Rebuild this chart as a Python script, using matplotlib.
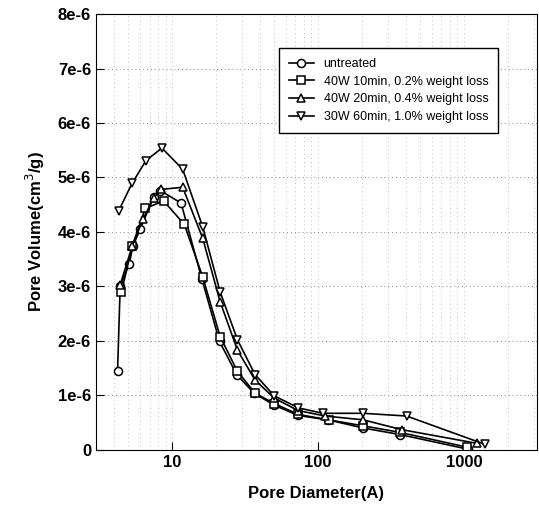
import numpy as np
import matplotlib.pyplot as plt
from matplotlib.ticker import FixedLocator, NullFormatter

plt.rcParams['font.family'] = ['Liberation Sans', 'DejaVu Sans']

# untreated
d_un = [4.22, 4.40, 5.07, 5.38, 6.03, 7.45, 8.28, 11.5, 16.0, 21.1, 27.7, 36.4, 50, 73, 117, 204, 365, 1070]
v_un = [1.45, 3.01, 3.41, 3.74, 4.05, 4.64, 4.76, 4.53, 3.13, 1.99, 1.38, 1.04, 0.82, 0.63, 0.55, 0.40, 0.28, 0.01]

# 40W 10min, 0.2%
d_10 = [4.48, 5.32, 6.54, 8.72, 12.1, 16.2, 21.3, 28.0, 37.0, 50, 73, 118, 204, 365, 1043]
v_10 = [2.89, 3.74, 4.43, 4.57, 4.14, 3.17, 2.08, 1.44, 1.04, 0.85, 0.65, 0.55, 0.44, 0.32, 0.05]

# 40W 20min, 0.4%
d_20 = [4.40, 5.32, 6.30, 7.45, 8.41, 11.8, 16.2, 21.3, 28.0, 37.0, 50, 73, 112, 204, 374, 1220]
v_20 = [3.03, 3.74, 4.23, 4.62, 4.78, 4.82, 3.88, 2.72, 1.83, 1.28, 0.95, 0.72, 0.62, 0.55, 0.37, 0.12]

# 30W 60min, 1.0%
d_60 = [4.30, 5.30, 6.61, 8.50, 11.8, 16.2, 21.3, 28.0, 37.0, 50.1, 73.3, 107.7, 204, 405, 1393]
v_60 = [4.39, 4.89, 5.31, 5.54, 5.15, 4.09, 2.90, 2.02, 1.38, 0.99, 0.77, 0.67, 0.67, 0.62, 0.10]

series = [
    (d_un, v_un, 'o', 'untreated'),
    (d_10, v_10, 's', '40W 10min, 0.2% weight loss'),
    (d_20, v_20, '^', '40W 20min, 0.4% weight loss'),
    (d_60, v_60, 'v', '30W 60min, 1.0% weight loss'),
]

fig = plt.figure(figsize=(5.39, 5.2), dpi=100)
ax = fig.add_axes([0.178, 0.135, 0.818, 0.838])

for d, v, m, lab in series:
    ax.plot(d, np.array(v) * 1e-6, color='black', lw=1.2, marker=m, ms=5.8,
            mfc='white', mec='black', mew=1.1, label=lab)

ax.set_xscale('log')
ax.set_xlim(3, 3162)
ax.set_ylim(0, 8e-6)

ax.xaxis.set_major_locator(FixedLocator([10, 100, 1000]))
ax.set_xticklabels(['10', '100', '1000'])
ax.xaxis.set_minor_formatter(NullFormatter())
ax.set_yticks(np.arange(0, 9) * 1e-6)
ax.set_yticklabels(['0'] + ['%de-6' % i for i in range(1, 9)])

ax.tick_params(axis='both', which='major', direction='in', length=6, labelsize=12)
ax.tick_params(axis='x', which='minor', length=0)
for lbl in ax.get_xticklabels() + ax.get_yticklabels():
    lbl.set_fontweight('bold')

ax.grid(True, which='major', axis='y', ls=(0, (1, 3)), color='#888888', lw=0.7)
ax.grid(True, which='both', axis='x', ls=(0, (1, 4)), color='#aaaaaa', lw=0.6)

ax.set_xlabel('Pore Diameter(A)', fontsize=12, fontweight='bold', labelpad=12)
ax.set_ylabel('Pore Volume(cm$^3$/g)', fontsize=12, fontweight='bold', labelpad=8)

leg = ax.legend(loc='upper right', bbox_to_anchor=(0.927, 0.936),
                frameon=True, fancybox=False, edgecolor='black', handlelength=2.0,
                borderpad=0.8, labelspacing=0.45, prop={'size': 9})
leg.get_frame().set_linewidth(1.0)
leg.get_frame().set_alpha(1)

fig.savefig('out.png', dpi=100)
